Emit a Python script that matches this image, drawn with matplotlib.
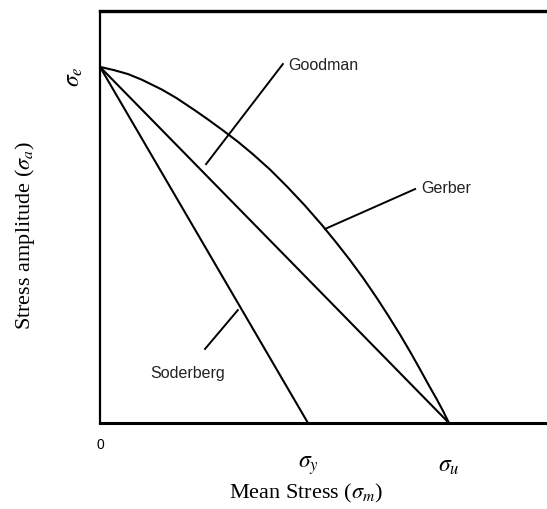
import matplotlib
matplotlib.use("Agg")
import matplotlib.pyplot as plt

plt.rcParams['mathtext.fontset'] = 'stix'

# Normalised values: sigma_e = 1 (amplitude), sigma_u = 1 (mean stress)
sigma_e = 1.0
sigma_u = 1.0
sigma_y = 0.596

goodman_x = [0.0, sigma_u]
goodman_y = [sigma_e, 0.0]

soderberg_x = [0.0, sigma_y]
soderberg_y = [sigma_e, 0.0]

gerber_x = [0.000, 0.040, 0.080, 0.120, 0.178, 0.220, 0.272, 0.310, 0.352,
            0.395, 0.438, 0.487, 0.536, 0.586, 0.636, 0.676, 0.716, 0.755,
            0.794, 0.827, 0.860, 0.890, 0.917, 0.940, 0.966, 0.983, 1.000]
gerber_y = [1.000, 0.991, 0.980, 0.964, 0.936, 0.912, 0.878, 0.852, 0.822,
            0.790, 0.755, 0.712, 0.664, 0.612, 0.556, 0.508, 0.458, 0.406,
            0.350, 0.300, 0.248, 0.198, 0.151, 0.110, 0.065, 0.034, 0.000]

xtick_vals = [sigma_y, sigma_u]
xtick_labels = [r'$\sigma_y$', r'$\sigma_u$']

fig = plt.figure(figsize=(5.47, 5.10), dpi=100)
ax = fig.add_axes([100/547, 86/510, 447/547, 412/510])
ax.set_xlim(0, 1.281)
ax.set_ylim(0, 1.157)

lw = 1.5
ax.plot(goodman_x, goodman_y, color='black', lw=lw, solid_capstyle='butt')
ax.plot(soderberg_x, soderberg_y, color='black', lw=lw, solid_capstyle='butt')
ax.plot(gerber_x, gerber_y, color='black', lw=lw, solid_capstyle='butt',
        solid_joinstyle='round')

# spines
ax.spines['right'].set_visible(False)
ax.spines['top'].set_linewidth(2.4)
ax.spines['left'].set_linewidth(1.6)
ax.spines['bottom'].set_linewidth(2.2)
for s in ax.spines.values():
    s.set_color('black')

ax.set_yticks([])
ax.set_xticks(xtick_vals)
ax.set_xticklabels(xtick_labels, fontsize=17)
ax.tick_params(axis='x', length=0, pad=21)

# zero label
ax.text(0, -0.06, '0', transform=ax.transData, ha='center', va='center',
        fontsize=10, family='Liberation Sans', clip_on=False)

# sigma_e label (rotated)
ax.text(-0.078, sigma_e * 1.0 - 0.025, r'$\sigma_e$', rotation=90, ha='center',
        va='center', fontsize=17, clip_on=False)

# axis labels
fig.text(306/547, 1 - 493/510, r'Mean Stress ($\sigma_m$)', ha='center', va='center',
         fontsize=16, family='Liberation Serif')
fig.text(25/547, 1 - 235/510, r'Stress amplitude ($\sigma_a$)', ha='center', va='center',
         fontsize=16, family='Liberation Serif', rotation=90)

ann_kw = dict(fontsize=11.5, family='Liberation Sans', color='#222222')
line_kw = dict(color='black', lw=1.4)

# Goodman
ax.plot([0.304, 0.524], [0.727, 1.008], **line_kw)
ax.text(0.539, 1.008, 'Goodman', ha='left', va='center', **ann_kw)
# Gerber
ax.plot([0.645, 0.903], [0.545, 0.657], **line_kw)
ax.text(0.921, 0.660, 'Gerber', ha='left', va='center', **ann_kw)
# Soderberg
ax.plot([0.395, 0.301], [0.317, 0.208], **line_kw)
ax.text(0.252, 0.143, 'Soderberg', ha='center', va='center', **ann_kw)

fig.savefig('out.png', dpi=100)
